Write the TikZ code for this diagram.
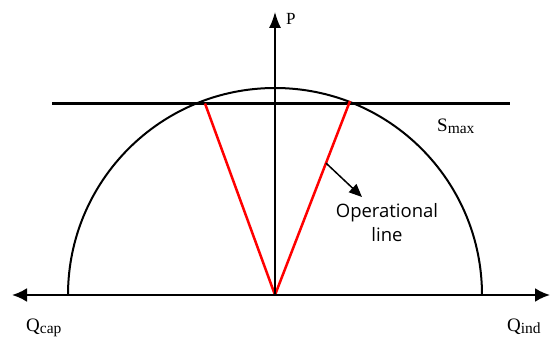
\documentclass[tikz,border=0pt]{standalone}
\usepackage{fontspec}
\setmainfont{Liberation Serif}
\newfontfamily\opfont{Open Sans}
\usetikzlibrary{positioning,arrows.meta,calc}

\newcommand{\sublabel}[2]{{\fontsize{19}{22}\selectfont #1}\raisebox{-2pt}{\fontsize{15.5}{18}\selectfont #2}}

\begin{document}
\begin{tikzpicture}[
    x=1pt, y=1pt,
    axis/.style={line width=2.4pt, -{Latex[length=15pt,width=14pt]}},
    paxis/.style={line width=1.5pt, -{Latex[length=16pt,width=12pt]}},
    curve/.style={line width=2pt},
    limit/.style={line width=2.8pt},
    opline/.style={red, line width=2.5pt},
    pointer/.style={line width=1.5pt, -{Triangle[length=13pt,width=11pt]}},
    lbl/.style={inner sep=0pt, anchor=base west}
]
\useasboundingbox (0,0) rectangle (552,340);

% axes
\coordinate (origin) at (275,45);
\coordinate (qcapend) at (12,45);
\coordinate (qindend) at (550,45);
\coordinate (pend) at (275,328);

% capability curve
\draw[curve] (68,45) arc[start angle=180, end angle=0, radius=207];

% apparent power limit
\coordinate (smaxl) at (52,236.5);
\coordinate (smaxr) at (510,236.5);
\draw[limit] (smaxl) -- (smaxr);

% operational lines
\coordinate (opl) at (205,236.5);
\coordinate (opr) at (350,239);
\draw[opline] (origin) -- (opl);
\draw[opline] (origin) -- (opr);

\draw[axis] (origin) -- (qcapend);
\draw[axis] (origin) -- (qindend);
\draw[paxis] (origin) -- (pend);

% labels
\node[lbl, font=\fontsize{17}{20}\selectfont] (plabel) at (286,315) {P};
\node[lbl] (smax) at (437,208) {\sublabel{S}{max}};
\node[lbl] (qcap) at (26,8) {\sublabel{Q}{cap}};
\node[lbl] (qind) at (507,8) {\sublabel{Q}{ind}};

\node[align=center, inner sep=0pt, anchor=base, font=\opfont\fontsize{18.5}{24}\selectfont] (optext) at (387,98) {Operational\\line};
\coordinate (ptr) at ($(origin)!0.68!(opr)$);
\draw[pointer] (ptr) -- (362,143);
\end{tikzpicture}
\end{document}
